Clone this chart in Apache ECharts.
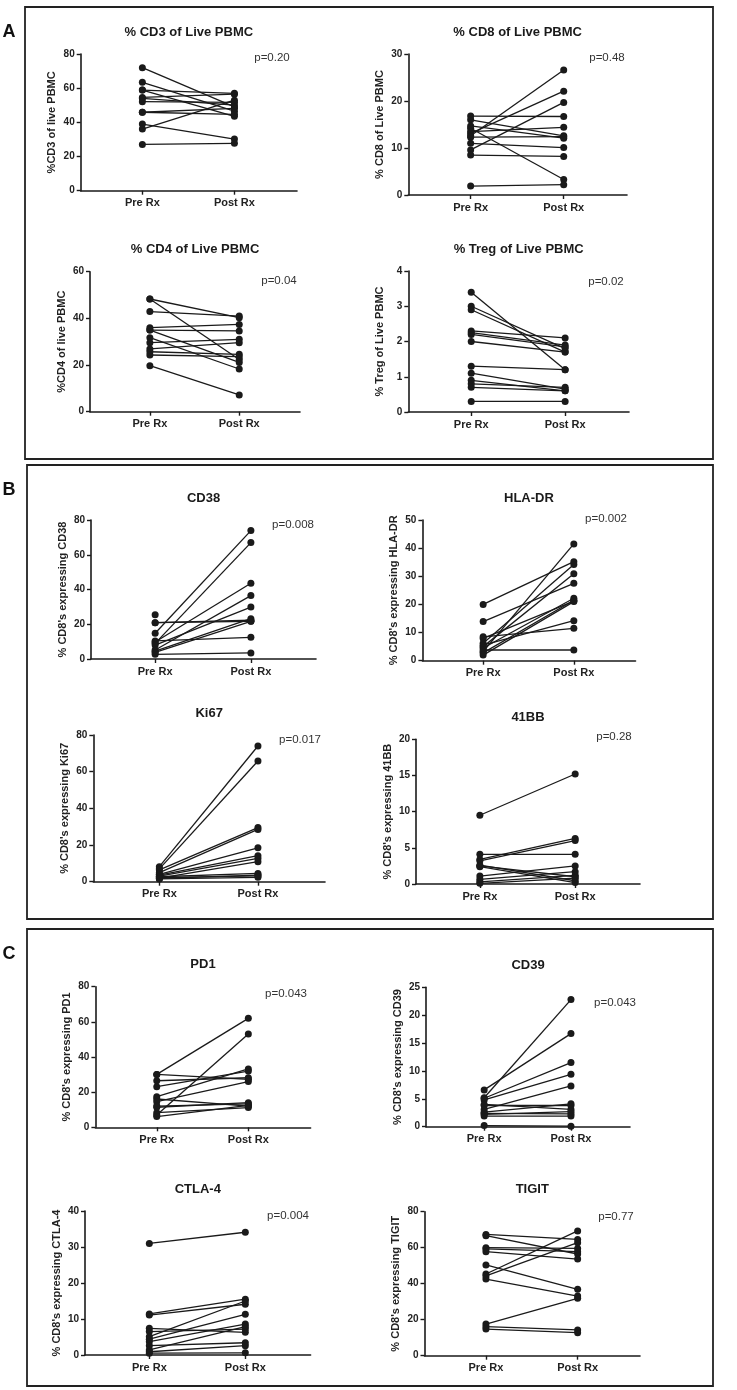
<!DOCTYPE html>
<html><head><meta charset="utf-8">
<script src="https://cdn.jsdelivr.net/npm/echarts@6/dist/echarts.min.js"></script>
<style>html,body{margin:0;padding:0;background:#fff}#c{width:737px;height:1390px}</style>
</head><body><div id="c"></div>
<script>
// ---------- data ----------
const xLabels = ['Pre Rx', 'Post Rx'];
const titles = ['% CD3 of Live PBMC', '% CD8 of Live PBMC', '% CD4 of Live PBMC', '% Treg of Live PBMC',
  'CD38', 'HLA-DR', 'Ki67', '41BB', 'PD1', 'CD39', 'CTLA-4', 'TIGIT'];
const yNames = ['%CD3 of live PBMC', '% CD8 of Live PBMC', '%CD4 of live PBMC', '% Treg of Live PBMC',
  "% CD8's expressing CD38", "% CD8's expressing HLA-DR", "% CD8's expressing Ki67", "% CD8's expressing 41BB",
  "% CD8's expressing PD1", "% CD8's expressing CD39", "% CD8's expressing CTLA-4", "% CD8's expressing TIGIT"];
const pValues = ['p=0.20', 'p=0.48', 'p=0.04', 'p=0.02', 'p=0.008', 'p=0.002', 'p=0.017', 'p=0.28',
  'p=0.043', 'p=0.043', 'p=0.004', 'p=0.77'];
const yMax  = [80, 30, 60, 4, 80, 50, 80, 20, 80, 25, 40, 80];
const yStep = [20, 10, 20, 1, 20, 10, 20, 5, 20, 5, 10, 20];
const panelLetters = ['A', 'B', 'C'];

const cd3Pre  = [72, 63.4, 58.9, 58.9, 54.6, 54, 52.1, 45.9, 45.9, 39, 36.1, 27.1];
const cd3Post = [49, 46.5, 57, 43.5, 56.5, 50.1, 51.7, 44.7, 48.2, 30.2, 53, 27.7];
const cd8Pre  = [16.8, 16, 14.7, 14.2, 13.5, 13.1, 12.6, 12.3, 11, 9.6, 8.5, 1.9];
const cd8Post = [16.7, 12.6, 12.1, 3.3, 14.4, 22.1, 26.6, 12.4, 10.1, 19.7, 8.2, 2.2];
const cd4Pre  = [48.3, 48.3, 42.9, 36, 35, 35, 31.7, 29.6, 26.9, 25.7, 24.3, 19.7];
const cd4Post = [40.3, 22.4, 41, 37.4, 34.6, 21.1, 18.3, 31, 29.6, 24.6, 23.6, 7.2];
const tregPre  = [3.4, 3.0, 2.9, 2.3, 2.25, 2.2, 2.0, 1.3, 1.1, 0.9, 0.8, 0.7, 0.3];
const tregPost = [1.2, 1.8, 1.7, 2.1, 1.9, 1.85, 1.7, 1.2, 0.65, 0.6, 0.7, 0.6, 0.3];
const cd38Pre  = [25.5, 20.9, 20.9, 14.8, 10.4, 9.8, 9, 8, 5.2, 4.5, 3.8, 2.7];
const cd38Post = [null, 21.7, 22.3, 73.9, 12.5, 43.6, 67, 29.9, 36.5, 23.2, 21.7, 3.5];
const hlaPre  = [20, 13.9, 8.5, 7.9, 6.2, 5.5, 5, 4.5, 3.8, 3.2, 2.8, 2];
const hlaPost = [35.2, 27.5, 11.5, 21.2, 34.2, 14.2, 30.9, 22.2, 3.8, 41.5, 21.5, 21.0];
const ki67Pre  = [8.2, 7, 6.4, 4.9, 4, 3.6, 3, 2.7, 2.2, 2, 1.8, 1.5];
const ki67Post = [74, 65.8, 29.5, 28.5, 18.5, 14.2, 12.7, 4.5, 3.2, 10.9, 3.6, 2.4];
const bb41Pre  = [9.5, 4.1, 3.4, 3.2, 2.6, 2.4, 2.5, 1.1, 0.65, 0.3, 0.1];
const bb41Post = [15.2, 4.1, 6.3, 6.0, 0.45, 0.2, 1.0, 2.5, 1.7, 1.2, 0.8];
const pd1Pre  = [30.1, 30.1, 26.5, 23.1, 17.4, 16.1, 14.6, 12.1, 11.4, 8.3, 7, 6.1];
const pd1Post = [62, 27.3, 28.2, 32, 33.2, 12.1, 26, 13.3, 14, 11.2, 53.1, 12.5];
const cd39Pre  = [6.6, 5.2, 5.1, 4.8, 4, 3.8, 3.1, 2.6, 2.4, 2.2, 1.9, 0.2];
const cd39Post = [16.7, 22.8, 11.5, 9.4, 3.1, 3.8, 7.3, 4.1, 2.3, 2.7, 1.9, 0.1];
const ctlaPre  = [31, 11.4, 11.1, 7.4, 6.5, 5.1, 4.4, 3.7, 2.6, 1.4, 0.9, 0.5];
const ctlaPost = [34.1, 15.5, 14.1, 6.3, 7.2, 15, 11.3, 8.6, 3.4, 7.9, 2.6, 0.6];
const tigitPre  = [67.4, 66.7, 60, 59.3, 57.8, 50.4, 45.4, 44.3, 42.6, 17.6, 16.1, 14.8];
const tigitPost = [64.6, 56.5, 59.6, 57.8, 53.7, 36.9, 69.3, 62.8, 33.1, 31.9, 14.3, 12.8];

const preData  = [cd3Pre, cd8Pre, cd4Pre, tregPre, cd38Pre, hlaPre, ki67Pre, bb41Pre, pd1Pre, cd39Pre, ctlaPre, tigitPre];
const postData = [cd3Post, cd8Post, cd4Post, tregPost, cd38Post, hlaPost, ki67Post, bb41Post, pd1Post, cd39Post, ctlaPost, tigitPost];

// ---------- layout (pixels) ----------
// [left, top, right, bottom, pX, pY]
const layout = [
  [80.7, 54, 297, 190.7, 272, 58],
  [408.3, 54, 627, 195, 607, 58],
  [90, 271.7, 300, 411.7, 279, 281],
  [408.3, 271, 629, 412, 606, 282],
  [91, 520, 316, 659, 293, 525],
  [422.4, 520, 635.5, 660.7, 606, 519],
  [93.3, 735, 325, 881.7, 300, 740],
  [416, 739.3, 640, 884, 614, 737],
  [95.4, 986.7, 310.6, 1127.3, 286, 994],
  [426, 987.3, 630, 1126.7, 615, 1003],
  [85, 1211, 310.6, 1355, 288, 1216],
  [424.5, 1211.7, 640, 1355.7, 616, 1217]
];
const boxRects = [[25, 7, 688, 452], [27, 465, 686, 454], [27, 929, 686, 457]];

const FONT = 'Liberation Sans, Arial, Helvetica, sans-serif';
const INK = '#1a1a1a';

const chart = echarts.init(document.getElementById('c'), null, {renderer: 'canvas'});
const grids = [], xAxes = [], yAxes = [], series = [], graphics = [];

layout.forEach((g, i) => {
  const [L, T, R, B, px, py] = g;
  grids.push({left: L, top: T, width: R - L, height: B - T, containLabel: false});
  xAxes.push({
    type: 'value', gridIndex: i, min: -0.67, max: 1.68,
    axisLine: {show: true, onZero: false, lineStyle: {color: INK, width: 1.6}},
    axisTick: {show: true, customValues: [0, 1], length: 4, lineStyle: {color: INK, width: 1.4}},
    axisLabel: {show: true, customValues: [0, 1], formatter: v => xLabels[Math.round(v)],
      fontFamily: FONT, fontWeight: 'bold', fontSize: 11, color: '#222', margin: 7},
    splitLine: {show: false}
  });
  yAxes.push({
    type: 'value', gridIndex: i, min: 0, max: yMax[i], interval: yStep[i],
    axisLine: {show: true, onZero: false, lineStyle: {color: INK, width: 1.6}},
    axisTick: {show: true, length: 4, lineStyle: {color: INK, width: 1.4}},
    axisLabel: {fontFamily: FONT, fontWeight: 'bold', fontSize: 10, color: '#222', margin: 6},
    splitLine: {show: false},
    name: yNames[i], nameLocation: 'middle', nameGap: 23,
    nameTextStyle: {fontFamily: FONT, fontWeight: 'bold', fontSize: 11, color: '#222'}
  });
  const pre = preData[i], post = postData[i];
  pre.forEach((v, j) => {
    const d = post[j] == null ? [[0, v]] : [[0, v], [1, post[j]]];
    series.push({
      type: 'line', xAxisIndex: i, yAxisIndex: i, data: d,
      symbol: 'circle', symbolSize: 7, showSymbol: true, clip: false,
      lineStyle: {color: INK, width: 1.3}, itemStyle: {color: INK},
      silent: true, animation: false
    });
  });
  graphics.push({type: 'text', silent: true, style: {
    text: titles[i], x: (L + R) / 2, y: T - 22, align: 'center', verticalAlign: 'middle',
    textAlign: 'center', textVerticalAlign: 'middle',
    font: 'bold 13px ' + FONT, fill: '#1a1a1a'}});
  graphics.push({type: 'text', silent: true, style: {
    text: pValues[i], x: px, y: py, align: 'center', verticalAlign: 'middle',
    textAlign: 'center', textVerticalAlign: 'middle',
    font: '11.5px ' + FONT, fill: '#333'}});
});

boxRects.forEach((b, k) => {
  graphics.push({type: 'rect', silent: true, shape: {x: b[0], y: b[1], width: b[2], height: b[3]},
    style: {fill: 'none', stroke: '#222', lineWidth: 1.8}});
  graphics.push({type: 'text', silent: true, style: {
    text: panelLetters[k], x: 9, y: b[1] + 25, align: 'center', verticalAlign: 'middle',
    textAlign: 'center', textVerticalAlign: 'middle',
    font: 'bold 18px ' + FONT, fill: '#111'}});
});

chart.setOption({
  animation: false,
  backgroundColor: '#fff',
  grid: grids, xAxis: xAxes, yAxis: yAxes, series: series,
  graphic: graphics
});
</script></body></html>
